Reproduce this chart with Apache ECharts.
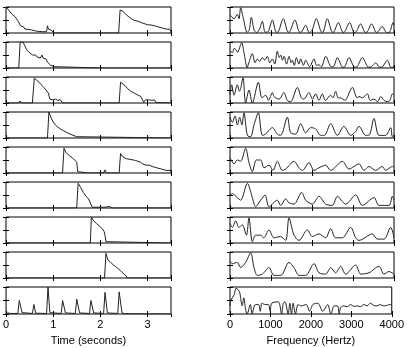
<!DOCTYPE html>
<html>
<head>
<meta charset="utf-8">
<script src="https://cdn.jsdelivr.net/npm/echarts@6/dist/echarts.min.js"></script>
<style>
    html, body { margin: 0; padding: 0; background: #fff; }
    #chart { width: 407px; height: 348px; }
</style>
</head>
<body>
<div id="chart"></div>
<script>
// 时间包络 (秒, 幅度)
var time1 = [[0,1],[0.05,0.9],[0.08,0.82],[0.13,0.72],[0.19,0.63],[0.26,0.45],[0.31,0.27],[0.34,0.2],[0.37,0.24],[0.4,0.15],[0.43,0.2],[0.47,0.14],[0.5,0.18],[0.54,0.12],[0.58,0.15],[0.62,0.08],[0.66,0.12],[0.7,0.06],[0.74,0.1],[0.78,0.05],[0.82,0.08],[0.86,0.05],[0.88,0.28],[0.9,0.15],[0.92,0.22],[0.94,0.08],[0.97,0.1],[1.0,0.02],[1.05,0],[1.5,0],[1.52,0.03],[1.54,0],[1.8,0],[1.82,0.03],[1.84,0],[2.39,0],[2.42,0.88],[2.45,0.82],[2.48,0.84],[2.55,0.7],[2.62,0.6],[2.7,0.5],[2.8,0.45],[2.9,0.38],[3.0,0.32],[3.1,0.3],[3.2,0.25],[3.3,0.2],[3.4,0.15],[3.47,0.14],[3.5,0.05]];
var time2 = [[0,0],[0.27,0],[0.3,1],[0.36,1],[0.4,0.85],[0.44,0.7],[0.48,0.62],[0.52,0.55],[0.56,0.5],[0.6,0.45],[0.63,0.5],[0.66,0.42],[0.7,0.48],[0.73,0.38],[0.76,0.5],[0.79,0.38],[0.82,0.45],[0.85,0.35],[0.88,0.22],[0.92,0.25],[0.95,0.1],[0.98,0.12],[1.02,0.05],[1.06,0],[2.05,0],[2.08,0.06],[2.11,0],[3.5,0]];
var time3 = [[0,0],[0.27,0],[0.3,0.08],[0.33,0],[0.56,0],[0.6,0.95],[0.65,0.88],[0.7,0.8],[0.75,0.7],[0.8,0.6],[0.85,0.5],[0.9,0.38],[0.93,0.15],[0.96,0.18],[1.0,0.12],[1.05,0.15],[1.1,0.1],[1.15,0.13],[1.18,0.08],[1.2,0],[2.4,0],[2.43,0.8],[2.47,0.75],[2.52,0.68],[2.58,0.55],[2.65,0.45],[2.72,0.38],[2.8,0.3],[2.86,0.25],[2.9,0.18],[2.92,0.03],[2.96,0.12],[3.0,0.08],[3.05,0.12],[3.1,0.1],[3.15,0.12],[3.18,0.02],[3.2,0],[3.5,0]];
var time4 = [[0,0],[0.88,0],[0.91,1],[0.95,0.8],[1.0,0.62],[1.05,0.5],[1.1,0.42],[1.15,0.35],[1.2,0.3],[1.3,0.2],[1.4,0.12],[1.5,0.05],[1.52,0],[3.5,0]];
var time5 = [[0,0],[0.88,0],[0.9,0.05],[0.92,0],[1.2,0],[1.23,0.95],[1.27,0.8],[1.3,0.75],[1.35,0.65],[1.4,0.6],[1.45,0.5],[1.5,0.42],[1.52,0.05],[1.55,0],[1.76,0],[1.78,0.06],[1.8,0],[2.07,0],[2.1,0.12],[2.13,0],[2.4,0],[2.43,0.75],[2.48,0.62],[2.55,0.55],[2.65,0.52],[2.75,0.48],[2.85,0.42],[2.9,0.35],[2.93,0.4],[2.97,0.3],[3.05,0.3],[3.1,0.25],[3.2,0.2],[3.3,0.15],[3.4,0.1],[3.5,0.1]];
var time6 = [[0,0],[1.5,0],[1.53,0.95],[1.58,0.8],[1.64,0.6],[1.7,0.45],[1.75,0.35],[1.8,0.15],[1.83,0.03],[2.1,0.03],[2.2,0.06],[2.25,0],[3.5,0]];
var time7 = [[0,0],[1.79,0],[1.81,1],[1.86,0.85],[1.92,0.75],[1.98,0.65],[2.04,0.55],[2.08,0.45],[2.1,0.3],[2.12,0.05],[2.13,0],[3.5,0]];
var time8 = [[0,0],[2.09,0],[2.12,0.95],[2.16,0.7],[2.22,0.6],[2.28,0.5],[2.35,0.4],[2.42,0.3],[2.5,0.15],[2.55,0.08],[2.57,0],[3.5,0]];
var time9 = [[0,0.02],[0.05,0.04],[0.1,0.02],[0.25,0.02],[0.28,0.5],[0.34,0.05],[0.56,0.02],[0.59,0.35],[0.63,0.03],[0.86,0.02],[0.89,1.0],[0.93,0.05],[1.17,0.02],[1.2,0.5],[1.26,0.04],[1.47,0.02],[1.5,0.55],[1.56,0.04],[1.77,0.02],[1.8,0.5],[1.86,0.04],[2.07,0.02],[2.1,0.8],[2.15,0.04],[2.37,0.02],[2.4,0.82],[2.46,0.04],[2.52,0.01],[3.5,0]];

// 频谱 (Hz, 幅度)
var freq1 = [[0,0.7],[100,0.55],[180,0.72],[220,0.55],[260,0.97],[320,0.6],[420,0.02],[470,0.12],[520,0.6],[590,0.1],[650,0.02],[720,0.15],[789,0.45],[860,0.03],[930,0.05],[1033,0.5],[1130,0.03],[1180,0.05],[1301,0.55],[1420,0.03],[1460,0.05],[1585,0.5],[1700,0.03],[1750,0.05],[1846,0.3],[1930,0.02],[2000,0.1],[2106,0.55],[2240,0.03],[2280,0.05],[2374,0.55],[2500,0.03],[2540,0.05],[2642,0.4],[2760,0.02],[2800,0.05],[2919,0.4],[3030,0.02],[3080,0.05],[3187,0.35],[3300,0.02],[3350,0.05],[3455,0.35],[3570,0.02],[3610,0.05],[3715,0.25],[3820,0.02],[3900,0.05],[3976,0.4],[4000,0.3]];
var freq2 = [[0,0.65],[60,0.6],[100,0.75],[150,0.7],[180,0.6],[285,0.97],[340,0.6],[420,0.02],[460,0.2],[545,0.55],[610,0.2],[667,0.35],[720,0.25],[789,0.4],[850,0.3],[911,0.45],[970,0.2],[1033,0.35],[1090,0.15],[1155,0.65],[1200,0.4],[1236,0.5],[1280,0.3],[1318,0.45],[1380,0.15],[1440,0.45],[1490,0.2],[1521,0.3],[1570,0.1],[1619,0.4],[1680,0.15],[1724,0.35],[1790,0.1],[1846,0.3],[1940,0.05],[2050,0.35],[2110,0.1],[2172,0.12],[2230,0.05],[2335,0.45],[2470,0.05],[2520,0.05],[2619,0.4],[2750,0.03],[2800,0.05],[2904,0.4],[3040,0.03],[3100,0.05],[3229,0.4],[3380,0.03],[3450,0.05],[3554,0.2],[3650,0.03],[3720,0.05],[3839,0.3],[3930,0.02],[4000,0.05]];
var freq3 = [[0,0.3],[41,0.7],[98,0.3],[179,0.7],[230,0.45],[260,0.55],[317,0.97],[382,0],[463,0.5],[545,0],[691,0.8],[780,0.2],[870,0.3],[940,0.1],[1033,0.4],[1073,0.25],[1114,0.2],[1200,0.15],[1317,0.4],[1398,0.1],[1480,0.05],[1642,0.6],[1740,0.2],[1800,0.15],[1927,0.4],[2010,0.15],[2089,0.35],[2170,0.1],[2252,0.35],[2330,0.1],[2455,0.3],[2510,0.2],[2577,0.45],[2640,0.2],[2699,0.2],[2800,0.1],[2984,0.6],[3100,0.2],[3146,0.25],[3228,0.2],[3350,0.35],[3420,0.1],[3512,0.15],[3600,0.05],[3675,0.25],[3760,0.1],[3837,0.05],[3900,0.1],[3959,0.35],[4000,0.3]];
var freq4 = [[0,0.8],[57,0.6],[122,0.85],[179,0.5],[236,0.8],[290,0.5],[341,0.97],[423,0.1],[504,0.05],[585,0.5],[691,0.97],[789,0.1],[870,0.15],[951,0.3],[1033,0.4],[1154,0.15],[1236,0.1],[1398,0.8],[1480,0.2],[1602,0.15],[1724,0.55],[1846,0.2],[1967,0.4],[2089,0.35],[2211,0.1],[2300,0.1],[2455,0.55],[2618,0.1],[2780,0.45],[2943,0.1],[3065,0.25],[3146,0.45],[3309,0.1],[3400,0.12],[3512,0.75],[3634,0.1],[3797,0.1],[3919,0.4],[3959,0.05],[4000,0.1]];
var freq5 = [[0,0.6],[98,0.35],[179,0.5],[260,0.45],[382,0.95],[463,0.4],[545,0.05],[642,0.5],[748,0.5],[829,0.2],[951,0.3],[1049,0.1],[1154,0.45],[1276,0.1],[1358,0.15],[1561,0.45],[1683,0.2],[1764,0.1],[1927,0.4],[2049,0.1],[2171,0.2],[2333,0.3],[2455,0.1],[2740,0.45],[2902,0.15],[3024,0.25],[3146,0.35],[3268,0.1],[3390,0.25],[3553,0.1],[3715,0.25],[3797,0.1],[3959,0.25],[4000,0.2]];
var freq6 = [[0,0.5],[57,0.55],[179,0.4],[260,0.3],[423,0.95],[545,0.4],[626,0.05],[748,0.3],[854,0.5],[951,0.05],[1154,0.3],[1236,0.1],[1358,0.35],[1439,0.2],[1561,0.15],[1748,0.6],[1846,0.3],[2008,0.15],[2171,0.45],[2333,0.15],[2496,0.1],[2618,0.45],[2740,0.25],[2821,0.15],[3065,0.5],[3228,0.1],[3512,0.4],[3634,0.1],[3878,0.1],[3959,0.45],[4000,0.3]];
var freq7 = [[0,0.75],[57,0.6],[138,0.85],[220,0.6],[300,0.7],[400,0.3],[463,0.97],[545,0.05],[626,0.3],[748,0.3],[820,0.2],[951,0.5],[1073,0.2],[1236,0.25],[1358,0.1],[1439,0.97],[1561,0.3],[1683,0.1],[1886,0.5],[2008,0.25],[2171,0.35],[2333,0.2],[2455,0.55],[2577,0.2],[2740,0.2],[2943,0.6],[3065,0.2],[3146,0.1],[3472,0.35],[3593,0.15],[3756,0.15],[3919,0.6],[4000,0.2]];
var freq8 = [[0,0.65],[57,0.55],[179,0.6],[260,0.4],[382,0.6],[504,0.97],[585,0.4],[667,0.1],[789,0.15],[951,0.4],[1073,0.1],[1236,0.1],[1439,0.6],[1561,0.4],[1683,0.1],[1846,0.1],[2049,0.55],[2171,0.2],[2333,0.15],[2455,0.4],[2577,0.2],[2699,0.45],[2821,0.15],[3065,0.5],[3187,0.15],[3390,0.2],[3634,0.45],[3756,0.15],[3878,0.25],[4000,0.15]];
var freq9 = [[0,0.3],[16,0.5],[100,0.7],[150,0.95],[200,0.9],[240,0.8],[301,0.3],[341,0.6],[382,0.2],[423,0],[504,0.35],[545,0],[626,0.35],[707,0.35],[748,0.1],[789,0.4],[870,0.35],[951,0.35],[992,0.1],[1033,0.4],[1195,0.45],[1276,0],[1317,0.4],[1358,0.45],[1439,0],[1480,0.4],[1520,0],[1561,0.4],[1618,0],[1683,0.35],[1764,0.3],[1886,0.35],[1967,0.1],[2049,0.35],[2171,0.4],[2293,0.1],[2415,0.35],[2496,0],[2577,0.3],[2659,0.3],[2699,0],[2740,0.25],[2821,0.3],[2900,0.27],[2984,0.35],[3065,0.28],[3146,0.3],[3228,0.27],[3309,0.35],[3390,0.3],[3472,0.4],[3553,0.32],[3634,0.3],[3715,0.35],[3797,0.3],[3878,0.32],[3959,0.35],[4000,0.35]];

var timeRows = [time1, time2, time3, time4, time5, time6, time7, time8, time9];
var freqRows = [freq1, freq2, freq3, freq4, freq5, freq6, freq7, freq8, freq9];

var font = '"Liberation Sans", Arial, sans-serif';

function initChart() {
    var chart = echarts.init(document.getElementById('chart'));
    var grid = [], xAxis = [], yAxis = [], series = [];
    var cols = [
        {left: 6, width: 165, rows: timeRows, max: 3.5, interval: 1, name: 'Time (seconds)', smooth: false},
        {left: 230, width: 164, rows: freqRows, max: 4000, interval: 1000, name: 'Frequency (Hertz)', smooth: 0.3}
    ];

    cols.forEach(function (col) {
        col.rows.forEach(function (rowData, r) {
            var gi = grid.length;
            var last = r === col.rows.length - 1;
            grid.push({
                left: col.left,
                top: 7 + r * 35,
                width: col.width,
                height: last ? 27 : 26,
                show: true,
                borderColor: '#000',
                borderWidth: 1
            });
            // 底部和顶部的刻度
            ['bottom', 'top'].forEach(function (pos) {
                var showLabel = last && pos === 'bottom';
                xAxis.push({
                    type: 'value',
                    gridIndex: gi,
                    position: pos,
                    min: 0,
                    max: col.max,
                    interval: col.interval,
                    axisLine: {show: false},
                    axisTick: {show: true, inside: true, length: 3, lineStyle: {color: '#000'}},
                    splitLine: {show: false},
                    axisLabel: {
                        show: showLabel,
                        color: '#000',
                        fontSize: 11,
                        fontFamily: font,
                        margin: 5,
                        showMaxLabel: col.max % col.interval === 0,
                        formatter: function (v) { return String(v); }
                    },
                    name: showLabel ? col.name : '',
                    nameLocation: 'middle',
                    nameGap: 21,
                    nameTextStyle: {color: '#000', fontSize: 11, fontFamily: font}
                });
            });
            ['left', 'right'].forEach(function (pos) {
                yAxis.push({
                    type: 'value',
                    gridIndex: gi,
                    position: pos,
                    min: 0,
                    max: 1,
                    interval: 0.5,
                    axisLine: {show: false},
                    axisTick: {show: true, inside: true, length: 3, lineStyle: {color: '#000'}},
                    splitLine: {show: false},
                    axisLabel: {show: false}
                });
            });
            series.push({
                type: 'line',
                xAxisIndex: gi * 2,
                yAxisIndex: gi * 2,
                data: rowData,
                smooth: col.smooth,
                showSymbol: false,
                silent: true,
                animation: false,
                clip: true,
                lineStyle: {color: '#222', width: 1}
            });
        });
    });

    chart.setOption({
        animation: false,
        grid: grid,
        xAxis: xAxis,
        yAxis: yAxis,
        series: series
    });
}
initChart();
</script>
</body>
</html>
